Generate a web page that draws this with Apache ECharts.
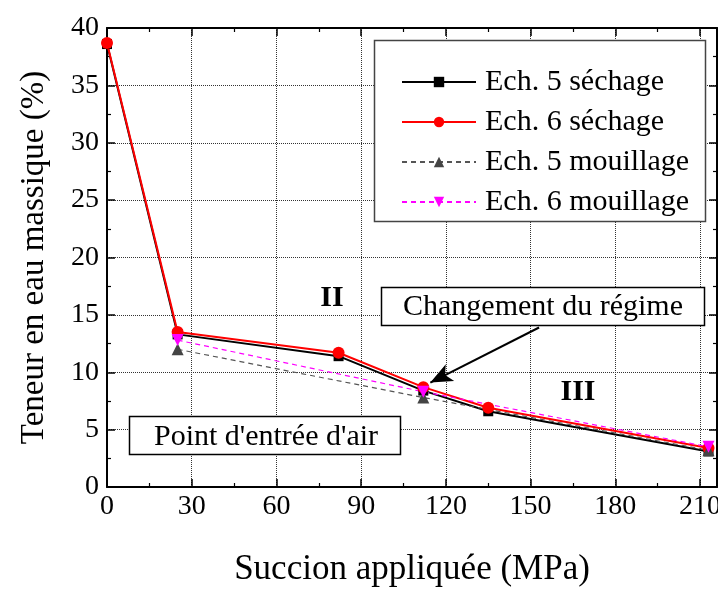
<!DOCTYPE html>
<html>
<head>
    <meta charset="utf-8">
    <title>Teneur en eau</title>
    <script src="https://cdn.jsdelivr.net/npm/echarts@6/dist/echarts.min.js"></script>
    <style>
        html, body { margin: 0; padding: 0; background: #fff; }
    </style>
</head>
<body>
    <div id="main" style="width: 718px;height: 590px;"></div>
    <script type="text/javascript">
    // data
    var ech5Sechage = [[0, 38.6], [25, 13.3], [82, 11.4], [112, 8.4], [135, 6.6], [213, 3.1]];
    var ech6Sechage = [[0, 38.7], [25, 13.5], [82, 11.7], [112, 8.7], [135, 6.9], [213, 3.4]];
    var ech5Mouillage = [[25, 12.0], [112, 7.8], [213, 3.2]];
    var ech6Mouillage = [[25, 12.8], [112, 8.3], [213, 3.5]];
    var seriesNames = ['Ech. 5 séchage', 'Ech. 6 séchage', 'Ech. 5 mouillage', 'Ech. 6 mouillage'];
    var arrowLine = [[153, 13.9], [114.5, 9.1]];

    var font = '"Liberation Serif", "DejaVu Serif", serif';
    var myChart = echarts.init(document.getElementById('main'));

    var frameAxis = {
        axisLine: { show: true, onZero: false, lineStyle: { color: '#000', width: 2 } },
        axisTick: { show: true, inside: true, length: 8, lineStyle: { color: '#000', width: 1.5 } },
        minorTick: { show: true, splitNumber: 2, length: 4, lineStyle: { color: '#000', width: 1.2 } },
        axisLabel: { show: false },
        splitLine: { show: false }
    };

    var option = {
        animation: false,
        backgroundColor: '#fff',
        textStyle: { fontFamily: font },
        grid: { left: 107, right: 1, top: 28, bottom: 103, outerBoundsMode: 'none', containLabel: false },
        xAxis: [
            Object.assign({}, frameAxis, {
                type: 'value', min: 0, max: 216, interval: 30, position: 'bottom',
                name: 'Succion appliquée (MPa)', nameLocation: 'middle', nameGap: 65,
                nameTextStyle: { fontFamily: font, fontSize: 35, color: '#000' },
                axisLabel: {
                    show: true, margin: 6, fontFamily: font, fontSize: 28, color: '#000',
                    showMaxLabel: false
                },
                splitLine: { show: true, lineStyle: { color: '#333', type: 'dotted', width: 1 } }
            }),
            Object.assign({}, frameAxis, {
                type: 'value', min: 0, max: 216, interval: 30, position: 'top'
            })
        ],
        yAxis: [
            Object.assign({}, frameAxis, {
                type: 'value', min: 0, max: 40, interval: 5, position: 'left',
                name: 'Teneur en eau massique (%)', nameLocation: 'middle', nameGap: 56,
                nameTextStyle: { fontFamily: font, fontSize: 33, color: '#000' },
                axisLabel: { show: true, margin: 8, fontFamily: font, fontSize: 28, color: '#000' },
                splitLine: { show: true, lineStyle: { color: '#333', type: 'dotted', width: 1 } }
            }),
            Object.assign({}, frameAxis, {
                type: 'value', min: 0, max: 40, interval: 5, position: 'right'
            })
        ],
        legend: {
            data: seriesNames,
            orient: 'vertical',
            left: 396,
            top: 61,
            z: 200,
            itemWidth: 74,
            itemHeight: 13,
            itemGap: 8,
            textStyle: { fontFamily: font, fontSize: 30, color: '#000', lineHeight: 32, padding: [0, 0, 0, 4] }
        },
        graphic: [
            {
                type: 'rect', z: 100,
                shape: { x: 374.5, y: 40.5, width: 331, height: 181 },
                style: { fill: '#fff', stroke: '#444', lineWidth: 1.5 }
            },
            {
                type: 'rect', z: 100,
                shape: { x: 381.5, y: 287.5, width: 323, height: 38 },
                style: { fill: '#fff', stroke: '#000', lineWidth: 1.5 }
            },
            {
                type: 'text', z: 101,
                style: {
                    text: 'Changement du régime', font: '30px ' + font, fill: '#000',
                    align: 'center', verticalAlign: 'middle'
                },
                x: 543, y: 307
            },
            {
                type: 'rect', z: 100,
                shape: { x: 129.5, y: 416.5, width: 271, height: 38 },
                style: { fill: '#fff', stroke: '#000', lineWidth: 1.5 }
            },
            {
                type: 'text', z: 101,
                style: {
                    text: "Point d'entrée d'air", font: '30px ' + font, fill: '#000',
                    align: 'center', verticalAlign: 'middle'
                },
                x: 266, y: 437
            },
            {
                type: 'text', z: 101,
                style: {
                    text: 'II', font: 'bold 30px ' + font, fill: '#000',
                    align: 'center', verticalAlign: 'middle'
                },
                x: 332, y: 298
            },
            {
                type: 'text', z: 101,
                style: {
                    text: 'III', font: 'bold 30px ' + font, fill: '#000',
                    align: 'center', verticalAlign: 'middle'
                },
                x: 578, y: 392
            }
        ],
        series: [
            {
                name: seriesNames[0], type: 'line', data: ech5Sechage,
                symbol: 'rect', symbolSize: 10,
                itemStyle: { color: '#000' },
                lineStyle: { color: '#000', width: 2 },
                markLine: {
                    silent: true, symbol: ['none', 'arrow'], symbolSize: [14, 22],
                    label: { show: false },
                    lineStyle: { color: '#000', width: 2, type: 'solid' },
                    data: [[{ coord: arrowLine[0] }, { coord: arrowLine[1] }]]
                }
            },
            {
                name: seriesNames[1], type: 'line', data: ech6Sechage,
                symbol: 'circle', symbolSize: 12,
                itemStyle: { color: '#ff0000' },
                lineStyle: { color: '#ff0000', width: 2 }
            },
            {
                name: seriesNames[2], type: 'line', data: ech5Mouillage,
                symbol: 'triangle', symbolSize: 12,
                itemStyle: { color: '#444' },
                lineStyle: { color: '#555', width: 1.2, type: [5, 4] }
            },
            {
                name: seriesNames[3], type: 'line', data: ech6Mouillage,
                symbol: 'triangle', symbolRotate: 180, symbolSize: 12,
                itemStyle: { color: '#ff00ff' },
                lineStyle: { color: '#ff00ff', width: 1.2, type: [5, 4] }
            }
        ]
    };

    myChart.setOption(option);
    </script>
</body>
</html>
